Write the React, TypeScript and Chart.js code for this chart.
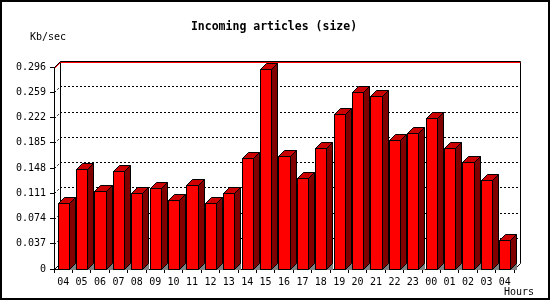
import React, { useEffect, useRef } from "react";
import { Chart, registerables } from "chart.js";

Chart.register(...registerables);

// ---- data ----
const hours = ["04", "05", "06", "07", "08", "09", "10", "11", "12", "13", "14", "15", "16", "17", "18", "19", "20", "21", "22", "23", "00", "01", "02", "03", "04"];
const sizeKbps = [0.096, 0.146, 0.115, 0.143, 0.112, 0.118, 0.101, 0.123, 0.096, 0.111, 0.162, 0.293, 0.166, 0.133, 0.177, 0.227, 0.260, 0.254, 0.189, 0.200, 0.221, 0.178, 0.157, 0.130, 0.043];
const yTicks = [0, 0.037, 0.074, 0.111, 0.148, 0.185, 0.222, 0.259, 0.296];
const yMax = 0.296;
const titleText = "Incoming articles (size)";
const yUnit = "Kb/sec";
const xUnit = "Hours";

const W = 550;
const H = 300;
const D = 6; // 3D depth
const FONT = "'DejaVu Sans Mono', 'Liberation Mono', monospace";

const fmt = (v: number) => (v === 0 ? "0" : v.toFixed(3));

const depthPlugin = {
  id: "depth3d",
  beforeDraw(chart: any) {
    const { ctx, chartArea: a, scales } = chart;
    const y = scales.y;
    ctx.save();
    ctx.fillStyle = "#ffffff";
    ctx.fillRect(0, 0, W, H);
    // image border
    ctx.strokeStyle = "#000";
    ctx.lineWidth = 2;
    ctx.strokeRect(1, 1, W - 2, H - 2);

    const L = Math.round(a.left);
    const R = Math.round(a.right);
    const T = Math.round(a.top);
    const B = Math.round(a.bottom);
    ctx.lineWidth = 1;

    // dotted gridlines on left wall and back wall
    ctx.setLineDash([2, 2]);
    for (const v of yTicks) {
      if (v === 0 || v === yMax) continue;
      const py = Math.round(y.getPixelForValue(v));
      ctx.beginPath();
      ctx.moveTo(L + 0.5, py + 0.5);
      ctx.lineTo(L + D + 0.5, py - D + 0.5);
      ctx.lineTo(R + D + 0.5, py - D + 0.5);
      ctx.stroke();
    }
    ctx.setLineDash([]);

    // back wall outline
    ctx.strokeStyle = "#000";
    ctx.beginPath();
    ctx.moveTo(L + D + 0.5, B - D + 0.5);
    ctx.lineTo(L + D + 0.5, T - D + 0.5);
    ctx.lineTo(R + D + 0.5, T - D + 0.5);
    ctx.lineTo(R + D + 0.5, B - D + 0.5);
    ctx.stroke();
    // floor diagonals
    ctx.beginPath();
    ctx.moveTo(L + 0.5, B + 0.5);
    ctx.lineTo(L + D + 0.5, B - D + 0.5);
    ctx.moveTo(R + 0.5, B + 0.5);
    ctx.lineTo(R + D + 0.5, B - D + 0.5);
    ctx.moveTo(L + 0.5, T + 0.5);
    ctx.lineTo(L + D + 0.5, T - D + 0.5);
    ctx.stroke();

    // red max line
    const my = Math.round(y.getPixelForValue(yMax)) + 1;
    ctx.strokeStyle = "#ff0000";
    ctx.beginPath();
    ctx.moveTo(L + 0.5, my + 0.5);
    ctx.lineTo(L + D + 0.5, my - D + 0.5);
    ctx.lineTo(R + D + 0.5, my - D + 0.5);
    ctx.stroke();
    ctx.restore();
  },
  afterDatasetsDraw(chart: any) {
    const { ctx } = chart;
    const meta = chart.getDatasetMeta(0);
    ctx.save();
    ctx.lineWidth = 1;
    ctx.strokeStyle = "#000";
    meta.data.forEach((el: any) => {
      const p = el.getProps(["x", "y", "base", "width"], true);
      const l = Math.round(p.x - p.width / 2);
      const r = Math.round(p.x + p.width / 2);
      const t = Math.round(p.y);
      const b = Math.round(p.base);
      // floor shadow
      ctx.fillStyle = "#808080";
      ctx.beginPath();
      ctx.moveTo(r, b + 1);
      ctx.lineTo(r + D + 1, b - D);
      ctx.lineTo(r + D + 1, b + 1);
      ctx.closePath();
      ctx.fill();
      // side face
      ctx.fillStyle = "#800000";
      ctx.beginPath();
      ctx.moveTo(r + 0.5, t + 0.5);
      ctx.lineTo(r + D + 0.5, t - D + 0.5);
      ctx.lineTo(r + D + 0.5, b - D + 0.5);
      ctx.lineTo(r + 0.5, b + 0.5);
      ctx.closePath();
      ctx.fill();
      ctx.stroke();
      // top face
      ctx.fillStyle = "#cc0000";
      ctx.beginPath();
      ctx.moveTo(l + 0.5, t + 0.5);
      ctx.lineTo(l + D + 0.5, t - D + 0.5);
      ctx.lineTo(r + D + 0.5, t - D + 0.5);
      ctx.lineTo(r + 0.5, t + 0.5);
      ctx.closePath();
      ctx.fill();
      ctx.stroke();
      // front face
      ctx.fillStyle = "#ff0000";
      ctx.fillRect(l + 0.5, t + 0.5, r - l, b - t);
      ctx.strokeRect(l + 0.5, t + 0.5, r - l, b - t);
    });
    ctx.restore();
  },
  afterDraw(chart: any) {
    const { ctx } = chart;
    ctx.save();
    ctx.fillStyle = "#000";
    ctx.textBaseline = "middle";
    ctx.textAlign = "center";
    ctx.font = `bold 11.5px ${FONT}`;
    ctx.fillText(titleText, 274, 27);
    ctx.font = `10px ${FONT}`;
    ctx.textAlign = "left";
    ctx.fillText(yUnit, 30, 37);
    ctx.fillText(xUnit, 504, 292);
    ctx.restore();
  },
};

export default function App() {
  const ref = useRef<HTMLCanvasElement | null>(null);
  useEffect(() => {
    document.body.style.margin = "0";
    const canvas = ref.current;
    if (!canvas) return;
    const chart = new Chart(canvas, {
      type: "bar",
      data: {
        labels: hours,
        datasets: [
          {
            data: sizeKbps,
            backgroundColor: "rgba(0,0,0,0)",
            borderWidth: 0,
            categoryPercentage: 1,
            barPercentage: 0.6,
          },
        ],
      },
      options: {
        animation: false,
        responsive: false,
        devicePixelRatio: 1,
        layout: { padding: { left: 0, top: 67, right: 36, bottom: 0 } },
        plugins: { legend: { display: false }, tooltip: { enabled: false }, title: { display: false } },
        scales: {
          x: {
            offset: true,
            grid: { offset: true, drawOnChartArea: false, drawTicks: true, tickLength: 4, color: "#000" },
            border: { display: true, color: "#000" },
            ticks: { color: "#000", font: { family: FONT, size: 10 }, padding: 3, autoSkip: false, maxRotation: 0 },
            afterFit: (s: any) => {
              s.height = 31;
            },
          },
          y: {
            min: 0,
            max: yMax,
            afterBuildTicks: (s: any) => {
              s.ticks = yTicks.map((v) => ({ value: v }));
            },
            grid: { drawOnChartArea: false, drawTicks: true, tickLength: 4, color: "#000" },
            border: { display: true, color: "#000" },
            ticks: { color: "#000", font: { family: FONT, size: 10 }, padding: 4, callback: (v: any) => fmt(Number(v)) },
            afterFit: (s: any) => {
              s.width = 54;
            },
          },
        },
      },
      plugins: [depthPlugin],
    });
    return () => chart.destroy();
  }, []);
  return <canvas ref={ref} width={W} height={H} style={{ display: "block", width: W, height: H }} />;
}
